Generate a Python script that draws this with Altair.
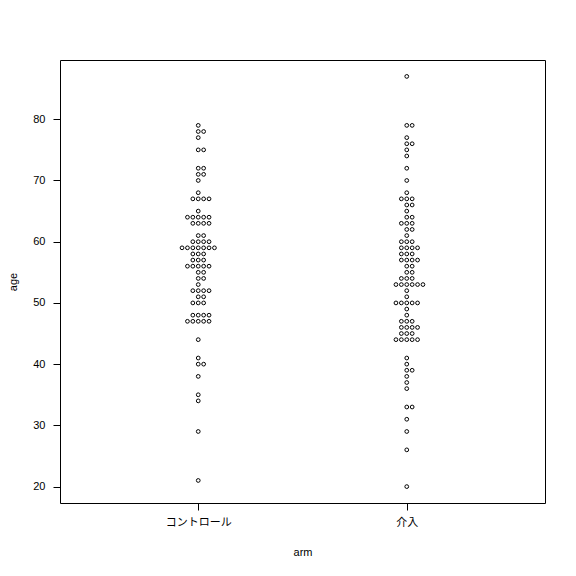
import math
import altair as alt
import pandas as pd

# ---- data (integer ages) ----
arm_names = ["コントロール", "介入"]

control_age = [21, 29, 34, 35, 38, 40, 40, 41, 44,
               47, 47, 47, 47, 47, 48, 48, 48, 48,
               50, 50, 50, 51, 51, 52, 52, 52, 52, 53,
               54, 54, 55, 55, 56, 56, 56, 56, 56,
               57, 57, 57, 58, 58, 58,
               59, 59, 59, 59, 59, 59, 59,
               60, 60, 60, 60, 61, 61,
               63, 63, 63, 63, 64, 64, 64, 64, 64, 65,
               67, 67, 67, 67, 68, 70, 71, 71, 72, 72,
               75, 75, 77, 78, 78, 79]

intervention_age = [20, 26, 29, 31, 33, 33, 36, 37, 38, 39, 39, 40, 41,
                    44, 44, 44, 44, 44, 45, 45, 45, 46, 46, 46, 46,
                    47, 47, 47, 48, 49, 50, 50, 50, 50, 50, 51, 52,
                    53, 53, 53, 53, 53, 53, 54, 54, 54, 55, 55, 56, 56,
                    57, 57, 57, 57, 58, 58, 58, 59, 59, 59, 59,
                    60, 60, 60, 61, 62, 62, 63, 63, 63, 64, 64, 65,
                    66, 66, 67, 67, 67, 68, 70, 72, 74, 75, 76, 76, 77,
                    79, 79, 87]

# ---- layout constants ----
W, H = 485, 443
X_DOM = [0.337, 2.663]
Y_DOM = [17.32, 89.68]
px_x = W / (X_DOM[1] - X_DOM[0])
px_y = H / (Y_DOM[1] - Y_DOM[0])
D = 5.4  # swarm spacing in pixels


def swarm(ages, d):
    """Beeswarm 'swarm' placement (ascending priority), offsets in pixels."""
    order = sorted(range(len(ages)), key=lambda i: ages[i])
    placed = []
    offs = [0.0] * len(ages)
    for i in order:
        y = ages[i] * px_y
        cands = [0.0]
        for xj, yj in placed:
            dy = abs(y - yj)
            if dy < d:
                dx = math.sqrt(d * d - dy * dy)
                cands += [xj + dx, xj - dx]
        valid = [c for c in cands
                 if all((c - xj) ** 2 + (y - yj) ** 2 >= d * d - 1e-6 for xj, yj in placed)]
        best = min(valid, key=abs)
        placed.append((best, y))
        offs[i] = best
    return offs


rows = []
for k, ages in enumerate([control_age, intervention_age]):
    offs = swarm(ages, D)
    for a, o in zip(ages, offs):
        rows.append({"arm": arm_names[k], "age": a, "xpos": (k + 1) + o / px_x})
df = pd.DataFrame(rows)

label_expr = f"datum.value == 1 ? '{arm_names[0]}' : datum.value == 2 ? '{arm_names[1]}' : ''"

FONT = "Liberation Sans, Noto Sans CJK JP"

chart = alt.Chart(df).mark_point(
    shape="circle", filled=False, color="black", size=14, strokeWidth=1, opacity=1
).encode(
    x=alt.X("xpos:Q", scale=alt.Scale(domain=X_DOM, nice=False, zero=False),
            axis=alt.Axis(values=[1, 2], labelExpr=label_expr, title="arm",
                          domain=False, grid=False, tickSize=7, tickColor="black",
                          labelPadding=6, labelFontSize=11, labelColor="black",
                          labelFont=FONT, titleFont=FONT, titleFontSize=11,
                          titleFontWeight="normal", titleColor="black",
                          titleY=49, titleBaseline="middle")),
    y=alt.Y("age:Q", scale=alt.Scale(domain=Y_DOM, nice=False, zero=False),
            axis=alt.Axis(values=[20, 30, 40, 50, 60, 70, 80], title="age",
                          domain=False, grid=False, tickSize=7, tickColor="black",
                          labelPadding=8, labelFontSize=11, labelColor="black",
                          labelFont=FONT, titleFont=FONT, titleFontSize=11,
                          titleFontWeight="normal", titleColor="black",
                          titleX=-47, titleY=H / 2, titleBaseline="middle",
                          titleAngle=270)),
).properties(
    width=W, height=H,
    autosize=alt.AutoSizeParams(type="none"),
    padding={"left": 52, "top": 52, "right": 23, "bottom": 65},
    background="white",
).configure_view(
    stroke="black", strokeWidth=1, fill="white"
)

chart.save("out.html", embed_options={"renderer": "svg", "actions": False})
